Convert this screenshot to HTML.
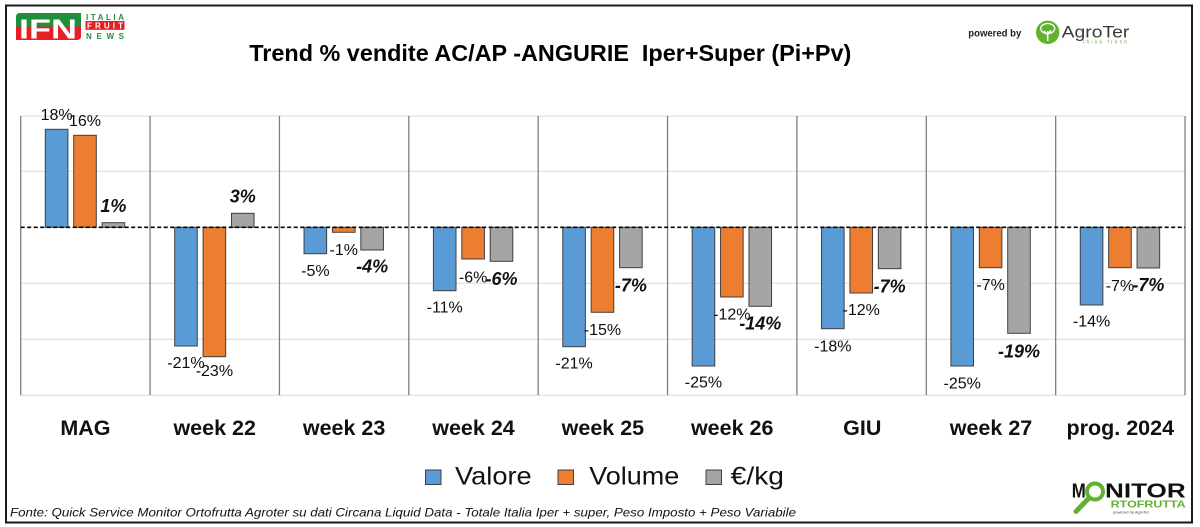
<!DOCTYPE html>
<html>
<head>
<meta charset="utf-8">
<style>
  html,body{margin:0;padding:0;background:#fff;}
  svg{display:block;}
  text{font-family:"Liberation Sans",sans-serif;}
</style>
</head>
<body>
<svg width="1200" height="527" viewBox="0 0 1200 527" xmlns="http://www.w3.org/2000/svg">
  <rect x="0" y="0" width="1200" height="527" fill="#fff"/>
  <!-- frame -->
  <rect x="6" y="5.5" width="1186" height="517" fill="none" stroke="#1a1a1a" stroke-width="2"/>

  <!-- IFN logo -->
  <path d="M20,13 H81 V26.5 H16 V17 Q16,13 20,13 Z" fill="#1f8f3a"/>
  <path d="M16,26.5 H81 V36 Q81,40 77,40 H16 Z" fill="#e41f26"/>
  <text x="19" y="38.5" font-size="28" font-weight="bold" fill="#fff" textLength="58" lengthAdjust="spacingAndGlyphs">IFN</text>
  <text x="86" y="19.8" font-size="8" font-weight="bold" fill="#2a8a3a" textLength="38" lengthAdjust="spacing">ITALIA</text>
  <rect x="85.5" y="21" width="39" height="8.8" fill="#e41f26"/>
  <text x="87" y="28.6" font-size="8" font-weight="bold" fill="#fff" textLength="36" lengthAdjust="spacing">FRUIT</text>
  <text x="86" y="38.8" font-size="8" font-weight="bold" fill="#2a8a3a" textLength="38" lengthAdjust="spacing">NEWS</text>

  <!-- Title -->
  <text x="249.3" y="61" font-size="23" font-weight="bold" fill="#000" textLength="602" lengthAdjust="spacingAndGlyphs">Trend % vendite AC/AP -ANGURIE&#160; Iper+Super (Pi+Pv)</text>

  <!-- AgroTer logo -->
  <text x="968.3" y="36.5" font-size="10" font-weight="bold" fill="#222" textLength="53" lengthAdjust="spacingAndGlyphs">powered by</text>
  <circle cx="1047.7" cy="32.3" r="11.7" fill="#62b22f"/>
  <ellipse cx="1047.7" cy="28.5" rx="7" ry="5" fill="none" stroke="#fff" stroke-width="1.3"/>
  <path d="M1047.7,31 V41 M1047.7,35 L1044,31 M1047.7,34 L1051,30.5" stroke="#fff" stroke-width="1.5" fill="none"/>
  <text x="1061.7" y="37.7" font-size="17" fill="#3a3a3a" textLength="67.6" lengthAdjust="spacingAndGlyphs">AgroTer</text>
  <text x="1083" y="43.5" font-size="5" fill="#62b22f" textLength="44" lengthAdjust="spacing">think fresh</text>

  <!-- gridlines -->
  <g stroke="#d9d9d9" stroke-width="1">
    <line x1="20.7" y1="116" x2="1185" y2="116"/>
    <line x1="20.7" y1="171.3" x2="1185" y2="171.3"/>
    <line x1="20.7" y1="283.3" x2="1185" y2="283.3"/>
    <line x1="20.7" y1="339.3" x2="1185" y2="339.3"/>
    <line x1="20.7" y1="395.3" x2="1185" y2="395.3"/>
  </g>
  <!-- separators -->
  <g stroke="#7f7f7f" stroke-width="1.3">
    <line x1="20.7" y1="116" x2="20.7" y2="395.3"/>
    <line x1="150.07" y1="116" x2="150.07" y2="395.3"/>
    <line x1="279.44" y1="116" x2="279.44" y2="395.3"/>
    <line x1="408.81" y1="116" x2="408.81" y2="395.3"/>
    <line x1="538.18" y1="116" x2="538.18" y2="395.3"/>
    <line x1="667.55" y1="116" x2="667.55" y2="395.3"/>
    <line x1="796.92" y1="116" x2="796.92" y2="395.3"/>
    <line x1="926.29" y1="116" x2="926.29" y2="395.3"/>
    <line x1="1055.66" y1="116" x2="1055.66" y2="395.3"/>
    <line x1="1185.03" y1="116" x2="1185.03" y2="395.3"/>
  </g>

  <!-- bars -->
  <g stroke="#404040" stroke-width="1">
    <rect x="45.3" y="129.3" width="22.6" height="98" fill="#5b9bd5"/>
    <rect x="73.7" y="135.3" width="22.6" height="92" fill="#ed7d31"/>
    <rect x="102.1" y="222.7" width="22.6" height="4.6" fill="#a5a5a5"/>
    <rect x="174.67" y="227.3" width="22.6" height="118.7" fill="#5b9bd5"/>
    <rect x="203.07" y="227.3" width="22.6" height="129.4" fill="#ed7d31"/>
    <rect x="231.47" y="213.3" width="22.6" height="14" fill="#a5a5a5"/>
    <rect x="304.04" y="227.3" width="22.6" height="26.4" fill="#5b9bd5"/>
    <rect x="332.44" y="227.3" width="22.6" height="5" fill="#ed7d31"/>
    <rect x="360.84" y="227.3" width="22.6" height="22.7" fill="#a5a5a5"/>
    <rect x="433.41" y="227.3" width="22.6" height="63.4" fill="#5b9bd5"/>
    <rect x="461.81" y="227.3" width="22.6" height="31.7" fill="#ed7d31"/>
    <rect x="490.21" y="227.3" width="22.6" height="34" fill="#a5a5a5"/>
    <rect x="562.78" y="227.3" width="22.6" height="119.4" fill="#5b9bd5"/>
    <rect x="591.18" y="227.3" width="22.6" height="85" fill="#ed7d31"/>
    <rect x="619.58" y="227.3" width="22.6" height="40.4" fill="#a5a5a5"/>
    <rect x="692.15" y="227.3" width="22.6" height="138.7" fill="#5b9bd5"/>
    <rect x="720.55" y="227.3" width="22.6" height="69.7" fill="#ed7d31"/>
    <rect x="748.95" y="227.3" width="22.6" height="79" fill="#a5a5a5"/>
    <rect x="821.52" y="227.3" width="22.6" height="101.4" fill="#5b9bd5"/>
    <rect x="849.92" y="227.3" width="22.6" height="65.7" fill="#ed7d31"/>
    <rect x="878.32" y="227.3" width="22.6" height="41.4" fill="#a5a5a5"/>
    <rect x="950.89" y="227.3" width="22.6" height="138.7" fill="#5b9bd5"/>
    <rect x="979.29" y="227.3" width="22.6" height="40.4" fill="#ed7d31"/>
    <rect x="1007.69" y="227.3" width="22.6" height="106" fill="#a5a5a5"/>
    <rect x="1080.26" y="227.3" width="22.6" height="77.7" fill="#5b9bd5"/>
    <rect x="1108.66" y="227.3" width="22.6" height="40.4" fill="#ed7d31"/>
    <rect x="1137.06" y="227.3" width="22.6" height="40.7" fill="#a5a5a5"/>
  </g>

  <!-- zero dashed line -->
  <line x1="20.7" y1="227.3" x2="1185" y2="227.3" stroke="#000" stroke-width="1.6" stroke-dasharray="4,2.5"/>

  <!-- data labels: Valore / Volume -->
  <g font-size="16" fill="#0d0d0d" text-anchor="middle">
    <text x="56.6" y="120">18%</text>
    <text x="85.0" y="126">16%</text>
    <text x="185.97" y="368">-21%</text>
    <text x="214.37" y="376">-23%</text>
    <text x="315.34" y="276">-5%</text>
    <text x="343.74" y="255">-1%</text>
    <text x="444.71" y="312.7">-11%</text>
    <text x="473.11" y="282.7">-6%</text>
    <text x="574.08" y="368.3">-21%</text>
    <text x="602.48" y="335">-15%</text>
    <text x="703.45" y="387.3">-25%</text>
    <text x="731.85" y="319.3">-12%</text>
    <text x="832.82" y="351.7">-18%</text>
    <text x="861.22" y="315">-12%</text>
    <text x="962.19" y="388.3">-25%</text>
    <text x="990.59" y="290">-7%</text>
    <text x="1091.56" y="326.7">-14%</text>
    <text x="1119.96" y="291">-7%</text>
  </g>
  <!-- data labels: €/kg -->
  <g font-size="18" font-weight="bold" font-style="italic" fill="#111" text-anchor="middle">
    <text x="113.4" y="212">1%</text>
    <text x="242.77" y="202.3">3%</text>
    <text x="372.14" y="272.7">-4%</text>
    <text x="501.51" y="285">-6%</text>
    <text x="630.88" y="291.7">-7%</text>
    <text x="760.25" y="329.3">-14%</text>
    <text x="889.62" y="292.3">-7%</text>
    <text x="1018.99" y="357.3">-19%</text>
    <text x="1148.36" y="291">-7%</text>
  </g>

  <!-- category labels -->
  <g font-size="21.5" font-weight="bold" fill="#111" text-anchor="middle">
    <text x="85.4" y="435">MAG</text>
    <text x="214.7" y="435">week 22</text>
    <text x="344.1" y="435">week 23</text>
    <text x="473.5" y="435">week 24</text>
    <text x="602.9" y="435">week 25</text>
    <text x="732.2" y="435">week 26</text>
    <text x="862.3" y="435">GIU</text>
    <text x="991.0" y="435">week 27</text>
    <text x="1120.3" y="435">prog. 2024</text>
  </g>

  <!-- legend -->
  <rect x="425.5" y="470" width="15.5" height="14.5" fill="#5b9bd5" stroke="#404040" stroke-width="1"/>
  <text x="455" y="484.3" font-size="25" fill="#111" textLength="76.7" lengthAdjust="spacingAndGlyphs">Valore</text>
  <rect x="558" y="470" width="15.5" height="14.5" fill="#ed7d31" stroke="#404040" stroke-width="1"/>
  <text x="589.3" y="484.3" font-size="25" fill="#111" textLength="90" lengthAdjust="spacingAndGlyphs">Volume</text>
  <rect x="706" y="470" width="15.5" height="14.5" fill="#a5a5a5" stroke="#404040" stroke-width="1"/>
  <text x="730.7" y="484.3" font-size="25" fill="#111" textLength="53.3" lengthAdjust="spacingAndGlyphs">€/kg</text>

  <!-- footer -->
  <text x="10" y="516.5" font-size="12" font-style="italic" fill="#111" textLength="786" lengthAdjust="spacingAndGlyphs">Fonte: Quick Service Monitor Ortofrutta Agroter su dati Circana Liquid Data - Totale Italia Iper + super, Peso Imposto + Peso Variabile</text>

  <!-- MONITOR ORTOFRUTTA logo -->
  <text x="1071.7" y="497.5" font-size="20" font-weight="bold" fill="#111" textLength="14" lengthAdjust="spacingAndGlyphs">M</text>
  <circle cx="1095" cy="491.5" r="8" fill="none" stroke="#62b22f" stroke-width="4"/>
  <line x1="1089" y1="498" x2="1076" y2="511.5" stroke="#62b22f" stroke-width="5" stroke-linecap="round"/>
  <text x="1105" y="497.5" font-size="20" font-weight="bold" fill="#111" textLength="80.7" lengthAdjust="spacingAndGlyphs">NITOR</text>
  <text x="1110.7" y="507.7" font-size="10.5" font-weight="bold" fill="#62b22f" textLength="75" lengthAdjust="spacingAndGlyphs">RTOFRUTTA</text>
  <text x="1113" y="513.5" font-size="4" fill="#444" textLength="36" lengthAdjust="spacingAndGlyphs">powered by AgroTer</text>
</svg>
</body>
</html>
